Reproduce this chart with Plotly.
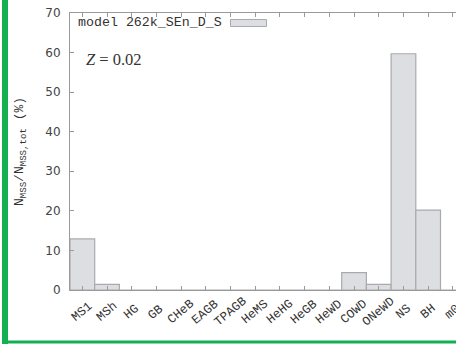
import plotly.graph_objects as go

categories = ["MS1", "MSh", "HG", "GB", "CHeB", "EAGB", "TPAGB", "HeMS",
              "HeHG", "HeGB", "HeWD", "COWD", "ONeWD", "NS", "BH", "m0"]
percent = [12.9, 1.4, 0, 0, 0, 0, 0, 0, 0, 0, 0, 4.4, 1.4, 59.7, 20.2, 0]
y_ticks = [0, 10, 20, 30, 40, 50, 60, 70]
legend_name = "model 262k_SEn_D_S"
z_label = "<i>Z</i> = 0.02"

W, H = 456, 344
ML, MT, MB = 70, 13, 54
PW, PH = W - ML, H - MT - MB

def px(x):
    return (x - ML) / PW

def py(y):
    return (H - MB - y) / PH

xs = list(range(len(categories)))

fig = go.Figure()
fig.add_trace(go.Bar(
    x=xs, y=percent, width=1.0,
    marker=dict(color="#dddee1", line=dict(color="#a9aaad", width=1.2)),
    name=legend_name, showlegend=False, hoverinfo="skip",
))

axis_col = "#9a9a9a"
fig.update_layout(
    width=W, height=H,
    margin=dict(l=ML, r=0, t=MT, b=MB, pad=0, autoexpand=False),
    paper_bgcolor="white", plot_bgcolor="white",
    bargap=0,
    xaxis=dict(
        range=[-0.5, -0.5 + PW / 24.7],
        tickmode="array", tickvals=xs, showticklabels=False,
        ticks="inside", ticklen=4, tickcolor=axis_col, tickwidth=1,
        showline=True, linecolor=axis_col, linewidth=1, mirror="ticks",
        showgrid=False, zeroline=False, automargin=False,
    ),
    yaxis=dict(
        range=[0, 70], tickvals=y_ticks,
        ticks="inside", ticklen=4, tickcolor=axis_col, tickwidth=1,
        showline=True, linecolor=axis_col, linewidth=1,
        showgrid=False, zeroline=False, automargin=False,
        tickfont=dict(family="DejaVu Sans", size=12, color="#444444"),
        ticklabelstandoff=6,
        title=dict(text="N<sub>MSS</sub>/N<sub>MSS,tot</sub> (%)",
                   font=dict(family="Liberation Mono", size=13, color="#333333"),
                   standoff=18),
    ),
)

# centred rotated category labels (gnuplot style)
for xi, cat in zip(xs, categories):
    fig.add_annotation(xref="x", yref="paper", x=xi, y=py(312),
                       text=cat, showarrow=False, textangle=-40,
                       xanchor="center", yanchor="middle",
                       font=dict(family="Liberation Mono", size=12.5, color="#333333"))

# legend text + swatch (gnuplot style)
fig.add_annotation(xref="paper", yref="paper", x=px(76), y=py(22),
                   text=legend_name, showarrow=False, xanchor="left", yanchor="middle",
                   font=dict(family="Liberation Mono", size=13.3, color="#333333"))
fig.add_shape(type="rect", xref="paper", yref="paper",
              x0=px(230.5), x1=px(266.5), y0=py(26.5), y1=py(19.5),
              fillcolor="#dddee1", line=dict(color="#a9aaad", width=1))
fig.add_annotation(xref="paper", yref="paper", x=px(84), y=py(59),
                   text=z_label, showarrow=False, xanchor="left", yanchor="middle",
                   font=dict(family="Liberation Serif", size=16.5, color="#333333"))

# green frame
green = "#12b050"
fig.add_shape(type="rect", xref="paper", yref="paper",
              x0=px(2), x1=px(8), y0=py(344), y1=py(0),
              fillcolor=green, line=dict(width=0), layer="above")
fig.add_shape(type="rect", xref="paper", yref="paper",
              x0=px(2), x1=px(456), y0=py(343.5), y1=py(340.5),
              fillcolor=green, line=dict(width=0), layer="above")

fig.write_html("out.html", config={"displayModeBar": False, "staticPlot": True},
               post_script="document.body.style.margin='0';document.body.style.overflow='hidden';")
